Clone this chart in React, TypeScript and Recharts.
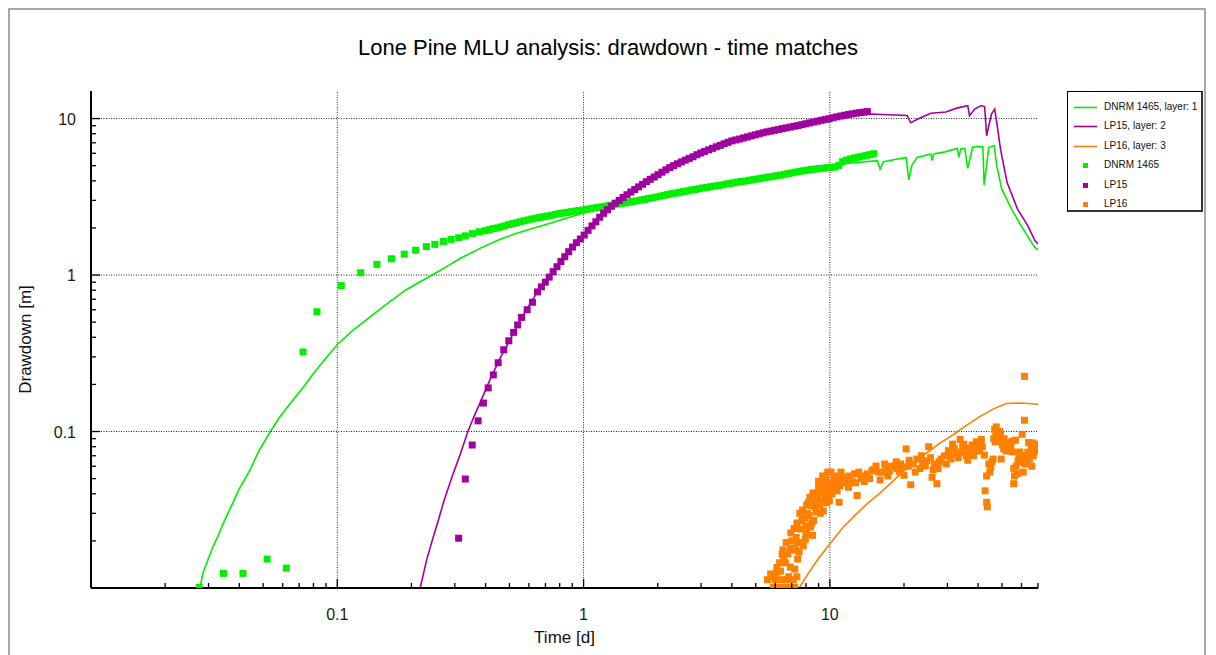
import React from "react";
import { ComposedChart, Line, Scatter, XAxis, YAxis, ReferenceLine } from "recharts";

const FONT = "'Liberation Sans', Arial, Helvetica, sans-serif";
const GREEN = "#00ee00";
const PURPLE = "#a000a0";
const ORANGE = "#ff8000";

const X_TICKS = [
  0.02, 0.03, 0.04, 0.05, 0.06, 0.07, 0.08, 0.09, 0.1, 0.2, 0.3, 0.4, 0.5, 0.6, 0.7, 0.8, 0.9,
  1, 2, 3, 4, 5, 6, 7, 8, 9, 10, 20, 30, 40, 50, 60, 70,
];
const Y_TICKS = [
  0.02, 0.03, 0.04, 0.05, 0.06, 0.07, 0.08, 0.09, 0.1, 0.2, 0.3, 0.4, 0.5, 0.6, 0.7, 0.8, 0.9,
  1, 2, 3, 4, 5, 6, 7, 8, 9, 10,
];
const MAJOR = [0.1, 1, 10];

// model curves: [time d, drawdown m]
const DNRM_MODEL = [
  [0.0277, 0.01], [0.0285, 0.0125], [0.03, 0.0155], [0.0314, 0.0186], [0.033, 0.022], [0.0345, 0.026],
  [0.0367, 0.032], [0.04, 0.043], [0.0443, 0.057], [0.048, 0.075], [0.0535, 0.1], [0.058, 0.122],
  [0.0633, 0.146], [0.068, 0.168], [0.0728, 0.192], [0.08, 0.235], [0.09, 0.295], [0.1, 0.36],
  [0.115, 0.44], [0.136, 0.54], [0.16, 0.66], [0.189, 0.8], [0.215, 0.9], [0.243, 1.0], [0.28, 1.14],
  [0.316, 1.28], [0.38, 1.48], [0.446, 1.66], [0.52, 1.82], [0.61, 1.97], [0.72, 2.13], [0.832, 2.28],
  [1, 2.49], [1.3, 2.76], [2, 3.15], [3, 3.55], [5, 4.08], [7, 4.45], [10, 4.85], [11.1, 5.12],
  [15.6, 5.38], [16, 4.76], [16.5, 5.3], [20.4, 5.65], [20.9, 4.06], [21.5, 5.0], [22.6, 5.65],
  [25.7, 5.93], [26, 5.38], [26.4, 5.95], [29, 6.1], [32.9, 6.45], [33.4, 5.65], [34, 6.4], [35.3, 6.45],
  [36.3, 4.81], [38, 6.55], [39.9, 6.64], [41.8, 6.6], [42.3, 3.76], [44.2, 6.55], [46.5, 6.71],
  [47.6, 4.99], [49.9, 3.54], [54.7, 2.64], [59.7, 2.07], [67.9, 1.5], [70, 1.45],
];
const LP15_MODEL = [
  [0.217, 0.01], [0.224, 0.0124], [0.231, 0.0153], [0.245, 0.021], [0.258, 0.0275], [0.27, 0.0353],
  [0.29, 0.0495], [0.316, 0.0718], [0.339, 0.1], [0.36, 0.126], [0.381, 0.154], [0.42, 0.22],
  [0.46, 0.298], [0.5, 0.38], [0.537, 0.474], [0.59, 0.61], [0.648, 0.775], [0.746, 1.04], [0.86, 1.4],
  [1, 1.78], [1.14, 2.28], [1.33, 2.84], [1.55, 3.38], [1.81, 4.0], [2.12, 4.64], [2.9, 5.93],
  [3.96, 7.21], [5.41, 8.16], [7.39, 9.0], [10, 10.1], [14.6, 10.7], [19.4, 10.5], [20.6, 10.45],
  [21.3, 9.4], [23, 10.0], [25.7, 10.8], [29.6, 11.0], [33, 11.7], [36.3, 12.1], [36.9, 10.4],
  [38.7, 11.5], [41.2, 12.1], [42.5, 11.9], [43.3, 7.76], [45.3, 10.7], [46.7, 11.5], [47.6, 9.47],
  [49.3, 6.38], [52.4, 3.91], [57.8, 2.64], [63.6, 2.07], [68, 1.66], [70, 1.58],
];
const LP16_MODEL = [
  [7.5, 0.01], [8.2, 0.0125], [9, 0.0155], [10, 0.0191], [11.2, 0.024], [12.6, 0.029], [14.3, 0.035],
  [16.1, 0.0409], [18, 0.048], [20, 0.0562], [22.3, 0.065], [24.9, 0.0737], [28.2, 0.085], [32, 0.0964],
  [36.3, 0.111], [41.1, 0.126], [46, 0.139], [51.9, 0.151], [60, 0.152], [68, 0.15], [70, 0.149],
];

// observed drawdown
const DNRM_OBS = [
  [0.0275, 0.0101], [0.0345, 0.0124], [0.0414, 0.0124], [0.0519, 0.0153], [0.0621, 0.0134],
  [0.0726, 0.322], [0.0827, 0.583], [0.1038, 0.855], [0.1245, 1.035], [0.145, 1.17], [0.166, 1.27],
  [0.187, 1.36], [0.208, 1.44], [0.23, 1.52], [0.249, 1.57], [0.27, 1.64], [0.29, 1.69], [0.311, 1.73],
  [0.331, 1.78], [0.354, 1.84], [0.378, 1.89],
  [0.4, 1.92], [0.415, 1.95], [0.43, 1.98], [0.446, 2.0], [0.462, 2.03], [0.479, 2.06], [0.497, 2.1],
  [0.515, 2.13], [0.534, 2.16], [0.554, 2.19], [0.574, 2.22], [0.595, 2.25], [0.617, 2.28], [0.64, 2.31],
  [0.664, 2.33], [0.688, 2.36], [0.714, 2.38], [0.74, 2.41], [0.767, 2.44], [0.796, 2.47], [0.825, 2.49],
  [0.856, 2.51], [0.887, 2.54], [0.92, 2.56], [0.954, 2.58], [0.989, 2.6], [1.026, 2.63], [1.064, 2.65],
  [1.103, 2.68], [1.144, 2.7], [1.186, 2.73], [1.23, 2.75], [1.276, 2.78], [1.323, 2.81], [1.372, 2.84],
  [1.422, 2.87], [1.475, 2.89], [1.529, 2.92], [1.586, 2.95], [1.645, 2.98], [1.705, 3.01], [1.768, 3.04],
  [1.834, 3.08], [1.901, 3.11], [1.972, 3.15], [2.045, 3.19], [2.12, 3.23], [2.199, 3.27], [2.28, 3.31],
  [2.364, 3.34], [2.452, 3.38], [2.542, 3.41], [2.636, 3.45], [2.734, 3.49], [2.835, 3.52], [2.94, 3.56],
  [3.048, 3.6], [3.161, 3.63], [3.278, 3.67], [3.399, 3.7], [3.525, 3.73], [3.655, 3.77], [3.79, 3.81],
  [3.931, 3.85], [4.076, 3.89], [4.227, 3.93], [4.383, 3.96], [4.545, 3.99], [4.713, 4.03], [4.888, 4.07],
  [5.068, 4.11], [5.256, 4.15], [5.45, 4.19], [5.652, 4.23], [5.861, 4.27], [6.078, 4.31], [6.303, 4.35],
  [6.536, 4.4], [6.778, 4.45], [7.029, 4.5], [7.289, 4.55], [7.559, 4.6], [7.838, 4.64], [8.128, 4.68],
  [8.429, 4.72], [8.741, 4.76], [9.064, 4.79], [9.4, 4.82], [9.748, 4.85], [10.108, 4.88], [10.48, 4.9],
  [10.87, 5.02], [11.27, 5.3], [11.69, 5.43], [12.12, 5.52], [12.57, 5.6], [13.03, 5.66], [13.52, 5.74],
  [14.02, 5.8], [14.53, 5.88], [15.07, 5.96],
];
const LP15_OBS = [
  [0.311, 0.0208], [0.331, 0.0497], [0.353, 0.082], [0.373, 0.117], [0.392, 0.152], [0.41, 0.19],
  [0.43, 0.23], [0.45, 0.275], [0.474, 0.333], [0.497, 0.38], [0.52, 0.43], [0.54, 0.48], [0.56, 0.536],
  [0.59, 0.6], [0.62, 0.67],
  [0.65, 0.78], [0.674, 0.84], [0.699, 0.9], [0.725, 0.97], [0.752, 1.05], [0.78, 1.13], [0.809, 1.22],
  [0.839, 1.31], [0.87, 1.41], [0.902, 1.51], [0.935, 1.61], [0.97, 1.7], [1.006, 1.8], [1.043, 1.93],
  [1.082, 2.06], [1.122, 2.19], [1.163, 2.34], [1.206, 2.48], [1.251, 2.61], [1.297, 2.75], [1.345, 2.88],
  [1.395, 3.0], [1.447, 3.13], [1.5, 3.26], [1.556, 3.39], [1.613, 3.52], [1.673, 3.66], [1.735, 3.8],
  [1.799, 3.95], [1.866, 4.09], [1.935, 4.23], [2.006, 4.38], [2.081, 4.54], [2.158, 4.7], [2.238, 4.86],
  [2.32, 5.0], [2.406, 5.14], [2.495, 5.28], [2.588, 5.42], [2.683, 5.56], [2.783, 5.7], [2.886, 5.88],
  [2.992, 6.03], [3.103, 6.17], [3.218, 6.31], [3.337, 6.45], [3.46, 6.6], [3.588, 6.74], [3.721, 6.9],
  [3.859, 7.05], [4.002, 7.2], [4.15, 7.3], [4.303, 7.4], [4.463, 7.52], [4.628, 7.63], [4.799, 7.75],
  [4.977, 7.87], [5.161, 7.99], [5.352, 8.11], [5.55, 8.22], [5.755, 8.32], [5.968, 8.42], [6.189, 8.52],
  [6.418, 8.62], [6.656, 8.72], [6.902, 8.82], [7.158, 8.92], [7.423, 9.02], [7.697, 9.14], [7.982, 9.26],
  [8.278, 9.38], [8.584, 9.5], [8.902, 9.62], [9.231, 9.74], [9.573, 9.86], [9.927, 9.98], [10.29, 10.12],
  [10.67, 10.25], [11.07, 10.38], [11.48, 10.5], [11.9, 10.62], [12.34, 10.72], [12.8, 10.82],
  [13.27, 10.92], [13.76, 11.0], [14.2, 11.08],
];
const LP16_OBS = [
  [5.58, 0.0113], [5.9, 0.0101], [6.0, 0.0113], [6.2, 0.0101], [6.37, 0.0113], [6.5, 0.0101],
  [6.7, 0.0113], [6.85, 0.0101], [7.1, 0.0113], [7.2, 0.0101], [5.75, 0.0123], [6.1, 0.0135],
  [6.3, 0.0128], [6.5, 0.0153], [6.4, 0.0164], [6.6, 0.0145], [6.9, 0.0177], [7.0, 0.02], [7.5, 0.017],
  [7.6, 0.0238], [7.4, 0.0153], [6.9, 0.0136], [7.2, 0.0132], [7.8, 0.0186], [7.98, 0.025], [8.24, 0.029],
  [8.4, 0.0337], [8.5, 0.0217], [8.8, 0.0305], [8.95, 0.037], [9.2, 0.041], [9.5, 0.0443], [9.6, 0.05],
  [9.8, 0.039], [9.0, 0.0443], [8.2, 0.0353], [7.7, 0.027], [8.0, 0.0225], [8.6, 0.027], [8.7, 0.033],
  [9.1, 0.034], [9.3, 0.036], [9.4, 0.031], [9.7, 0.035], [9.9, 0.043], [10.0, 0.047], [9.8, 0.055],
  [7.3, 0.021], [7.1, 0.018], [8.1, 0.03], [8.9, 0.04], [9.6, 0.038], [9.4, 0.046],
  [6.05, 0.0125], [6.25, 0.0145], [6.45, 0.0175], [6.65, 0.0195], [6.75, 0.0165], [6.95, 0.0225],
  [7.15, 0.024], [7.35, 0.026], [7.45, 0.0195], [7.55, 0.03], [7.75, 0.0315], [7.9, 0.028], [8.05, 0.034],
  [8.3, 0.038], [8.45, 0.026], [8.55, 0.0405], [8.75, 0.0365], [9.0, 0.048], [9.15, 0.03], [9.35, 0.052],
  [9.55, 0.0415], [9.75, 0.047], [9.95, 0.036], [8.35, 0.0245], [7.95, 0.0205], [7.25, 0.0175],
  [6.8, 0.0118], [7.35, 0.0118], [5.95, 0.0118],
  [10.4, 0.05], [10.7, 0.0418], [11.0, 0.045], [11.3, 0.05], [10.9, 0.0353], [10.2, 0.04], [10.6, 0.052],
  [11.6, 0.047], [12.0, 0.052], [12.6, 0.0536], [12.9, 0.039], [13.4, 0.05], [13.8, 0.048], [14.2, 0.0536],
  [14.8, 0.056], [15.4, 0.0602], [16.0, 0.049], [16.4, 0.055], [16.9, 0.058], [17.5, 0.056], [18.3, 0.0602],
  [18.8, 0.058], [19.2, 0.0553], [19.6, 0.059], [20.0, 0.0525],
  [10.1, 0.055], [10.3, 0.046], [10.5, 0.043], [10.8, 0.048], [11.1, 0.055], [11.5, 0.051], [11.9, 0.044],
  [12.3, 0.048], [12.7, 0.047], [13.1, 0.055], [13.6, 0.052], [14.5, 0.05], [15.0, 0.057], [15.8, 0.055],
  [16.7, 0.062], [17.2, 0.052], [17.8, 0.06], [18.6, 0.064], [19.4, 0.062],
  [20.4, 0.0774], [21, 0.0655], [21.3, 0.0457], [21.8, 0.062], [22.6, 0.0667], [23.2, 0.058], [23.8, 0.063],
  [24.4, 0.0602], [25.2, 0.08], [25.6, 0.068], [26.0, 0.051], [26.6, 0.062], [27.2, 0.0464], [27.8, 0.064],
  [28.3, 0.0667], [29.2, 0.07], [30.3, 0.0755], [31, 0.0667], [32, 0.078], [32.8, 0.072], [33.8, 0.089],
  [34.6, 0.08], [35.4, 0.074], [36.3, 0.0655], [37.3, 0.072], [38.7, 0.0774], [39.8, 0.082], [41.2, 0.089],
  [40.5, 0.075],
  [20.8, 0.06], [22.2, 0.055], [23.5, 0.07], [24.8, 0.065], [26.3, 0.057], [27.5, 0.058], [29.7, 0.062],
  [30.8, 0.07], [31.5, 0.083], [33.2, 0.068], [34.2, 0.074], [35, 0.083], [35.8, 0.07], [36.8, 0.078],
  [37.8, 0.082], [38.3, 0.07], [39.3, 0.086], [40, 0.079], [40.8, 0.085], [41.6, 0.08],
  [42.4, 0.0706], [43.3, 0.052], [42.7, 0.0418], [43.3, 0.0353], [43.6, 0.033], [45, 0.059], [46, 0.0667],
  [46.7, 0.103], [47.2, 0.099], [47.6, 0.095], [48.2, 0.092], [49.0, 0.1], [49.9, 0.088], [50.8, 0.0774],
  [49.6, 0.0667], [51.5, 0.08], [52.4, 0.0846], [53.5, 0.078], [54.9, 0.0867], [55.8, 0.058], [55.8, 0.0464],
  [56.2, 0.052], [57.6, 0.0536], [58.6, 0.0706], [56.7, 0.088], [59.5, 0.068], [60.4, 0.0636], [60.4, 0.096],
  [61.7, 0.118], [61.7, 0.225], [62.5, 0.07], [63.6, 0.0737], [64.6, 0.0667], [65.7, 0.0774], [66.6, 0.0846],
  [67.5, 0.08], [68.5, 0.075],
  [44.2, 0.062], [44.6, 0.055], [45.5, 0.064], [46.3, 0.09], [46.9, 0.086], [47.4, 0.107], [47.9, 0.1],
  [48.5, 0.086], [49.3, 0.095], [50.2, 0.082], [51, 0.09], [52, 0.075], [53, 0.083], [54.2, 0.08],
  [55.3, 0.074], [57, 0.06], [58.1, 0.065], [59, 0.074], [61, 0.055], [62, 0.062], [63, 0.066],
  [64.1, 0.085], [65.1, 0.072], [66, 0.06], [67, 0.07], [68, 0.083], [69, 0.078],
];

const LEGEND = [
  { name: "DNRM 1465, layer: 1", color: GREEN, kind: "line" },
  { name: "LP15, layer: 2", color: PURPLE, kind: "line" },
  { name: "LP16, layer: 3", color: ORANGE, kind: "line" },
  { name: "DNRM 1465", color: GREEN, kind: "square" },
  { name: "LP15", color: PURPLE, kind: "square" },
  { name: "LP16", color: ORANGE, kind: "square" },
];

const toRows = (pts: number[][]) => pts.map(([t, s]) => ({ t, s }));

const isMajor = (v: number) => MAJOR.some((m) => Math.abs(m - v) < 1e-9);
const tickLen = (v: number) => (isMajor(v) ? 9 : 5);

function BottomTick({ x, y, payload }: any) {
  const v = payload.value;
  return (
    <g>
      <line x1={x} x2={x} y1={y} y2={y - tickLen(v)} stroke="#000" strokeWidth={1.3} />
      {isMajor(v) && (
        <text x={x} y={y + 32} textAnchor="middle" fontSize={16} fontFamily={FONT} fill="#1a1a1a">
          {String(v)}
        </text>
      )}
    </g>
  );
}

function TopTick({ x, y, payload }: any) {
  return <line x1={x} x2={x} y1={y} y2={y + tickLen(payload.value)} stroke="#000" strokeWidth={1.3} />;
}

function LeftTick({ x, y, payload }: any) {
  const v = payload.value;
  return (
    <g>
      <line x1={x} x2={x + tickLen(v)} y1={y} y2={y} stroke="#000" strokeWidth={1.3} />
      {isMajor(v) && (
        <text x={x - 15} y={y + 6} textAnchor="end" fontSize={16} fontFamily={FONT} fill="#1a1a1a">
          {String(v)}
        </text>
      )}
    </g>
  );
}

function RightTick({ x, y, payload }: any) {
  return <line x1={x} x2={x - tickLen(payload.value)} y1={y} y2={y} stroke="#000" strokeWidth={1.3} />;
}

const square = (color: string) => (p: any) =>
  <rect x={p.cx - 3.5} y={p.cy - 3.5} width={7} height={7} fill={color} />;

const frame = { stroke: "#000", strokeWidth: 2 };

function Legend() {
  return (
    <div
      style={{
        position: "absolute", left: 1059, top: 83, width: 133, height: 118,
        borderTop: "1px solid #000", borderLeft: "1px solid #000",
        borderRight: "2px solid #333", borderBottom: "2px solid #333",
        background: "#fff", fontFamily: FONT, fontSize: 10, color: "#111",
      }}
    >
      {LEGEND.map((item, i) => (
        <div key={item.name} style={{ position: "absolute", left: 0, top: 6 + i * 19.4, height: 19, width: 133 }}>
          <svg width={34} height={19} style={{ position: "absolute", left: 0, top: 0 }}>
            {item.kind === "line" ? (
              <line x1={6} x2={29} y1={9.5} y2={9.5} stroke={item.color} strokeWidth={1.6} />
            ) : (
              <rect x={15} y={7} width={5} height={5} fill={item.color} />
            )}
          </svg>
          <span style={{ position: "absolute", left: 36, top: 3, whiteSpace: "nowrap" }}>{item.name}</span>
        </div>
      ))}
    </div>
  );
}

export default function App() {
  return (
    <div style={{ position: "relative", width: 1200, height: 647 }}>
      <div
        style={{
          position: "absolute", left: 0, top: 0, width: 1198, height: 660,
          border: "2px solid #a8a8a8", boxSizing: "border-box",
        }}
      />
      <div
        style={{
          position: "absolute", left: 0, top: 29, width: 1200, textAlign: "center",
          fontFamily: FONT, fontSize: 22, lineHeight: "22px", color: "#000",
        }}
      >
        Lone Pine MLU analysis: drawdown - time matches
      </div>
      <div style={{ position: "absolute", left: 0, top: 0 }}>
        <ComposedChart width={1200} height={640} margin={{ top: 83, right: 170, bottom: 0, left: 13 }}>
          <XAxis
            xAxisId={0} dataKey="t" type="number" scale="log" domain={[0.01, 70]} allowDataOverflow
            ticks={X_TICKS} interval={0} tickSize={0} tickMargin={0} tickLine={false}
            tick={<BottomTick />} axisLine={frame} height={60}
            label={({ viewBox }: any) => (
              <text x={viewBox.x + viewBox.width / 2} y={viewBox.y + 55} textAnchor="middle"
                fontSize={17} fontFamily={FONT} fill="#111">Time [d]</text>
            )}
          />
          <XAxis
            xAxisId="top" orientation="top" dataKey="t" type="number" scale="log" domain={[0.01, 70]}
            allowDataOverflow ticks={X_TICKS} interval={0} tickSize={0} tickMargin={0} tickLine={false}
            tick={<TopTick />} axisLine={frame} height={0}
          />
          <YAxis
            yAxisId={0} dataKey="s" type="number" scale="log" domain={[0.01, 15]} allowDataOverflow
            ticks={Y_TICKS} interval={0} tickSize={0} tickMargin={0} tickLine={false}
            tick={<LeftTick />} axisLine={frame} width={70}
            label={({ viewBox }: any) => {
              const cx = viewBox.x + 4;
              const cy = viewBox.y + viewBox.height / 2;
              return (
                <text x={cx} y={cy} transform={`rotate(-90, ${cx}, ${cy})`} textAnchor="middle"
                  dominantBaseline="central" fontSize={17} fontFamily={FONT} fill="#111">Drawdown [m]</text>
              );
            }}
          />
          <YAxis
            yAxisId="right" orientation="right" dataKey="s" type="number" scale="log" domain={[0.01, 15]}
            allowDataOverflow ticks={Y_TICKS} interval={0} tickSize={0} tickMargin={0} tickLine={false}
            tick={<RightTick />} axisLine={frame} width={0}
          />
          {MAJOR.map((v) => (
            <ReferenceLine key={`gx${v}`} x={v} stroke="#222" strokeDasharray="1 1.5" />
          ))}
          {MAJOR.map((v) => (
            <ReferenceLine key={`gy${v}`} y={v} stroke="#222" strokeDasharray="1 1.5" />
          ))}
          <Line data={toRows(DNRM_MODEL)} dataKey="s" type="linear" stroke={GREEN} strokeWidth={1.6}
            dot={false} activeDot={false} isAnimationActive={false} />
          <Line data={toRows(LP15_MODEL)} dataKey="s" type="linear" stroke={PURPLE} strokeWidth={1.6}
            dot={false} activeDot={false} isAnimationActive={false} />
          <Line data={toRows(LP16_MODEL)} dataKey="s" type="linear" stroke={ORANGE} strokeWidth={1.6}
            dot={false} activeDot={false} isAnimationActive={false} />
          <Scatter data={toRows(DNRM_OBS)} dataKey="s" shape={square("#00f000")} isAnimationActive={false} />
          <Scatter data={toRows(LP15_OBS)} dataKey="s" shape={square(PURPLE)} isAnimationActive={false} />
          <Scatter data={toRows(LP16_OBS)} dataKey="s" shape={square(ORANGE)} isAnimationActive={false} />
        </ComposedChart>
      </div>
      <Legend />
    </div>
  );
}
